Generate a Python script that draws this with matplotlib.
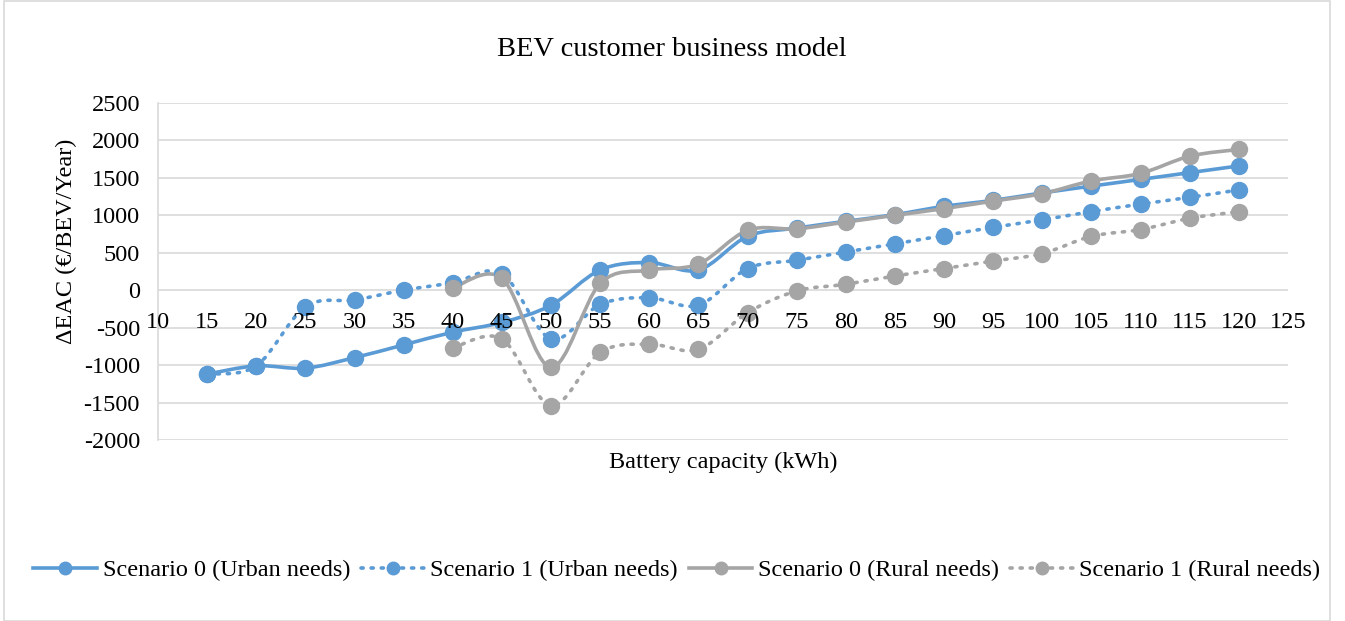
import matplotlib
matplotlib.use("Agg")
from matplotlib import pyplot as plt
from matplotlib.path import Path
from matplotlib.patches import PathPatch, Rectangle
from matplotlib.lines import Line2D
import numpy as np

plt.rcParams['font.family'] = ['Liberation Serif', 'DejaVu Serif']

x_ticks = list(range(10, 130, 5))
y_ticks = list(range(-2000, 2501, 500))
capacity = [15, 20, 25, 30, 35, 40, 45, 50, 55, 60, 65, 70, 75, 80, 85, 90,
            95, 100, 105, 110, 115, 120]
s0_urban = [-1120, -1010, -1040, -900, -730, -560, -430, -200, 270, 370, 270,
            720, 830, 920, 1010, 1120, 1200, 1300, 1390, 1480, 1570, 1660]
s1_urban = [-1120, -1010, -220, -130, 0, 100, 220, -650, -190, -100, -200,
            290, 400, 510, 620, 730, 840, 940, 1050, 1150, 1240, 1340]
capacity_rural = capacity[5:]
s0_rural = [30, 160, -1030, 90, 270, 350, 800, 820, 910, 1000, 1090, 1190,
            1290, 1460, 1560, 1790, 1880]
s1_rural = [-770, -650, -1540, -830, -720, -790, -300, -10, 80, 190, 290,
            390, 490, 720, 810, 960, 1050]

BLUE = '#5B9BD5'
GRAY = '#A5A5A5'
W, H = 1345, 621
FS = 17.5


def smooth_path(xs, ys):
    # Excel-style smoothed line as cubic bezier segments
    p = np.column_stack([xs, ys]).astype(float)
    n = len(p)
    verts = [p[0]]
    codes = [Path.MOVETO]
    for i in range(n - 1):
        p_prev = p[i - 1] if i > 0 else p[i]
        p_next2 = p[i + 2] if i + 2 < n else p[i + 1]
        c1 = p[i] + (p[i + 1] - p_prev) / 6.0
        c2 = p[i + 1] - (p_next2 - p[i]) / 6.0
        verts += [c1, c2, p[i + 1]]
        codes += [Path.CURVE4] * 3
    return Path(verts, codes)


fig = plt.figure(figsize=(W / 100, H / 100), dpi=100)
ax = fig.add_axes([158 / W, 1 - 440 / H, (1288 - 158) / W, (440 - 103) / H])

series = [
    (capacity, s0_urban, BLUE, '-', 'Scenario 0 (Urban needs)'),
    (capacity, s1_urban, BLUE, (0, (0.6, 2.2)), 'Scenario 1 (Urban needs)'),
    (capacity_rural, s0_rural, GRAY, '-', 'Scenario 0 (Rural needs)'),
    (capacity_rural, s1_rural, GRAY, (0, (0.6, 2.2)), 'Scenario 1 (Rural needs)'),
]

handles = []
for xs, ys, col, ls, lab in series:
    patch = PathPatch(smooth_path(xs, ys), facecolor='none', edgecolor=col,
                      linewidth=2.6, linestyle=ls, capstyle='round', zorder=3)
    ax.add_patch(patch)
    ax.plot(xs, ys, linestyle='none', marker='o', markersize=11.5,
            color=col, zorder=4)
    handles.append(Line2D([], [], color=col, linewidth=2.6, linestyle=ls,
                          dash_capstyle='round', marker='o', markersize=9,
                          label=lab))

ax.set_xlim(10, 125)
ax.set_ylim(-2000, 2500)
ax.set_yticks(y_ticks)
ax.set_yticklabels([str(v) for v in y_ticks])
ax.set_xticks(x_ticks)
ax.tick_params(axis='y', labelsize=FS, length=0, pad=13)
ax.tick_params(axis='x', length=0)
ax.set_xticklabels([])
for xv in x_ticks:
    ax.text(xv, -430, str(xv), ha='center', va='center', fontsize=FS, zorder=5)

ax.grid(axis='y', color='#D9D9D9', linewidth=1.2)
ax.set_axisbelow(True)
for s in ['top', 'right', 'bottom']:
    ax.spines[s].set_visible(False)
ax.spines['left'].set_color('#D9D9D9')
ax.spines['left'].set_linewidth(1.2)

fig.text(672 / W, 1 - 50 / H, 'BEV customer business model', fontsize=20.5,
         ha='center', va='center')
fig.text(66 / W, 1 - 241 / H, '\u0394EAC (\u20ac/BEV/Year)', fontsize=FS,
         rotation=90, ha='center', va='center')
fig.text(723 / W, 1 - 462 / H, 'Battery capacity (kWh)', fontsize=FS,
         ha='center', va='center')

fig.legend(handles=handles, loc='center', bbox_to_anchor=(677 / W, 1 - 570 / H),
           ncol=4, frameon=False, fontsize=FS, handlelength=2.6,
           columnspacing=0.45, handletextpad=0.25)

fig.patches.append(Rectangle((4 / W, 0.0), 1326 / W, 0.999,
                             transform=fig.transFigure, fill=False,
                             edgecolor='#D9D9D9', linewidth=1.2))

fig.savefig('out.png', dpi=100)
